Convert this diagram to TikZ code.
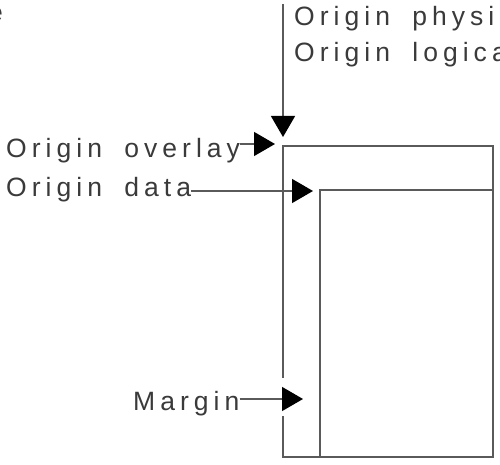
\documentclass[tikz,border=0pt]{standalone}
\usepackage{fontspec}
\setmainfont{Liberation Sans}[LetterSpace=19,WordSpace=1.8]
\usetikzlibrary{arrows.meta}
\definecolor{linegray}{HTML}{5A5A5A}
\definecolor{textgray}{HTML}{3A3A3A}
\tikzset{
  lbl/.style={anchor=base west,inner sep=0pt,text=textgray},
  edge/.style={draw=linegray,line width=1.4pt},
  pointer/.style={edge,-{Triangle[length=21pt,width=24pt,black]}}
}
\begin{document}
\begin{tikzpicture}[x=1pt,y=-1pt,font=\fontsize{26.5}{30}\selectfont]
  \useasboundingbox(0,0)rectangle(500,465);
  \clip(0,0)rectangle(500,465);
  \coordinate(outerNW)at(283,146);
  \coordinate(innerNW)at(320,190);
  \coordinate(SE)at(493,457);
  \coordinate(topend)at(283,4);
  \coordinate(physTip)at(283,137);
  \coordinate(ovlTip)at(275,144);
  \coordinate(dataTip)at(313,191);
  \coordinate(marTip)at(303,399);
  \draw[edge](outerNW)rectangle(SE);
  \draw[edge](innerNW)rectangle(SE);
  \node[anchor=base east,inner sep=0pt,text=textgray](cut)at(3,22){e};
  \node[lbl](phys)at(294,26){Origin physical};
  \node[lbl](logi)at(294,62){Origin logical};
  \node[lbl](ovl)at(6,157.5){Origin overlay};
  \node[lbl](dat)at(6,196.5){Origin data};
  \node[lbl](mar)at(133,410){Margin};
  \draw[pointer](topend)--(physTip);
  \draw[pointer](ovl.east|-ovlTip)--(ovlTip);
  \draw[pointer](dat.east|-dataTip)--(dataTip);
  \fill[white](280.5,378)rectangle(285.5,416);
  \draw[pointer](mar.east|-marTip)--(marTip);
\end{tikzpicture}
\end{document}
